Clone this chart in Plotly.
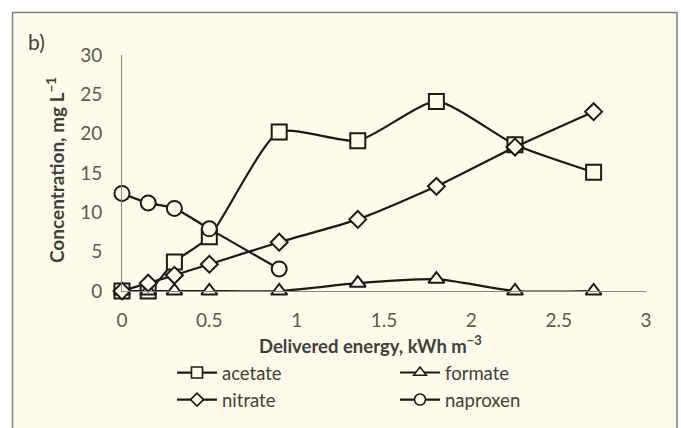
import plotly.graph_objects as go

energy = [0, 0.15, 0.3, 0.5, 0.9, 1.35, 1.8, 2.25, 2.7]
acetate = [0, 0, 3.7, 6.9, 20.2, 19.1, 24.1, 18.6, 15.1]
formate = [0, 0, 0, 0, 0, 1.0, 1.5, 0, 0]
nitrate = [0, 1.0, 2.0, 3.4, 6.2, 9.1, 13.3, 18.3, 22.8]
energy_nap = [0, 0.15, 0.3, 0.5, 0.9]
naproxen = [12.4, 11.2, 10.5, 7.9, 2.8]

x_ticks = [0, 0.5, 1, 1.5, 2, 2.5, 3]
x_tick_labels = ["0", "0.5", "1", "1.5", "2", "2.5", "3"]
y_ticks = [0, 5, 10, 15, 20, 25, 30]

FONT = "Lato"
LINE = "#1a1a1a"
BG = "#fefbea"

series = [
    ("acetate", energy, acetate, "square"),
    ("formate", energy, formate, "triangle-up"),
    ("nitrate", energy, nitrate, "diamond"),
    ("naproxen", energy_nap, naproxen, "circle"),
]
sizes = {"square": 15, "triangle-up": 14, "diamond": 13, "circle": 15}
legend_sizes = {"square": 11, "triangle-up": 11, "diamond": 10, "circle": 11}

fig = go.Figure()
for name, xs, ys, sym in series:
    fig.add_trace(go.Scatter(
        x=xs, y=ys, name=name, mode="lines+markers", showlegend=False,
        legendgroup=name,
        line=dict(color=LINE, width=2.2, shape="spline", smoothing=0.6),
        marker=dict(symbol=sym, size=sizes[sym], color=BG,
                    line=dict(color=LINE, width=2)),
        cliponaxis=False,
    ))
# legend-only entries (no data points) with smaller symbols, as in the reference legend
for name, xs, ys, sym in series:
    fig.add_trace(go.Scatter(
        x=[None], y=[None], name=name, mode="lines+markers", legendgroup=name,
        line=dict(color=LINE, width=2.2),
        marker=dict(symbol=sym, size=legend_sizes[sym], color=BG,
                    line=dict(color=LINE, width=1.6)),
    ))

W, H = 681, 428
L, R, T, B = 122, 35, 55, 137
pw, ph = W - L - R, H - T - B

def px(xp):
    return (xp - L) / pw

def py(yp):
    return (H - B - yp) / ph

fig.add_shape(type="rect", xref="paper", yref="paper",
              x0=px(12.5), x1=px(677), y0=py(12.5), y1=py(440),
              line=dict(color="#808080", width=1.5), fillcolor=BG,
              layer="below")

fig.add_annotation(text="b)", xref="paper", yref="paper",
                   x=px(26), y=py(42), xanchor="left", yanchor="middle",
                   showarrow=False, font=dict(family=FONT, size=21, color="#404040"))

fig.add_annotation(text="<b>Delivered energy, kWh m<sup>−3</sup></b>",
                   xref="paper", yref="paper", x=px(370), y=py(344),
                   xanchor="center", yanchor="middle", showarrow=False,
                   font=dict(family=FONT, size=18.5, color="#404040"))

fig.add_annotation(text="<b>Concentration, mg L<sup>−1</sup></b>",
                   xref="paper", yref="paper", x=px(55), y=py(170),
                   xanchor="center", yanchor="middle", showarrow=False, textangle=-90,
                   font=dict(family=FONT, size=19, color="#404040"))

fig.update_layout(
    width=W, height=H,
    margin=dict(l=L, r=R, t=T, b=B, autoexpand=False),
    paper_bgcolor="white", plot_bgcolor="rgba(0,0,0,0)",
    font=dict(family=FONT, color="#595959"),
    showlegend=True,
    legend=dict(orientation="h", x=px(172), y=py(354), xanchor="left", yanchor="top",
                entrywidth=168, entrywidthmode="pixels",
                font=dict(family=FONT, size=18.5, color="#404040"),
                bgcolor="rgba(0,0,0,0)", tracegroupgap=0, itemwidth=40),
    xaxis=dict(range=[0, 3], tickvals=x_ticks, ticktext=x_tick_labels,
               showgrid=False, zeroline=False, showline=True,
               linecolor="#868686", linewidth=1, ticks="", ticklabelstandoff=12,
               tickfont=dict(family=FONT, size=19, color="#595959")),
    yaxis=dict(range=[0, 30], tickvals=y_ticks,
               showgrid=False, zeroline=False, showline=True,
               linecolor="#868686", linewidth=1, ticks="", ticklabelstandoff=15,
               tickfont=dict(family=FONT, size=19, color="#595959")),
)

fig.write_html("out.html")
